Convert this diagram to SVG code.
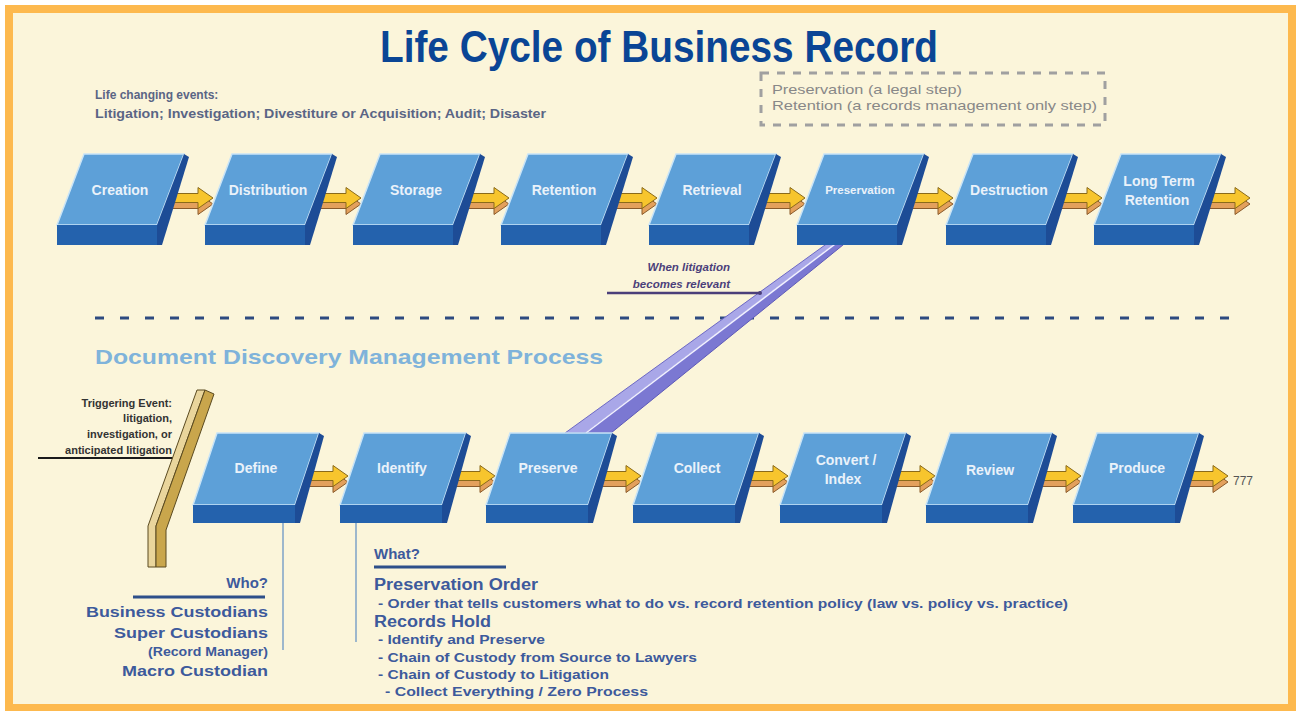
<svg xmlns="http://www.w3.org/2000/svg" width="1297" height="711" viewBox="0 0 1297 711">
<defs>
<style>
.tf{fill:#5DA0D8;stroke:#C9E4F7;stroke-width:1.5}
.ff{fill:#2462AD}
.sf{fill:#1D4C96}
.lbl{font-family:"Liberation Sans",Arial,sans-serif;font-weight:bold;font-size:14px;fill:#EAF2FA;text-anchor:middle}
.gt{font-family:"Liberation Sans",Arial,sans-serif;font-weight:bold;font-size:12px;fill:#5A6585}
.bt{font-family:"Liberation Sans",Arial,sans-serif;font-weight:bold;fill:#3D5A9C}
.dt{font-family:"Liberation Sans",Arial,sans-serif;font-weight:bold;font-size:11px;fill:#333333;text-anchor:end}
.lg{font-family:"Liberation Sans",Arial,sans-serif;font-size:13px;fill:#888888}
</style>
<g id="arr">
<path d="M0,1.5 H35 V-4.5 L50,6 L35,16.5 V10.5 H0 Z" fill="#E3A05C" stroke="#8A5A2A" stroke-width="1"/>
<path d="M0,-4.5 H35 V-10.5 L50,0 L35,10.5 V4.5 H0 Z" fill="#F7C52D" stroke="#8A6A1A" stroke-width="1"/>
</g>
<g id="tbox">
<polygon class="tf" points="27,154 127,154 100,225 0,225"/>
<rect class="ff" x="0" y="225" width="100" height="20"/>
<polygon class="sf" points="127,154 132,157 105,245 100,245 100,225"/>
</g>
<g id="lbox">
<polygon class="tf" points="24,433 126,433 102,505 0,505"/>
<rect class="ff" x="0" y="505" width="102" height="18"/>
<polygon class="sf" points="126,433 131,436 107,523 102,523 102,505"/>
</g>
</defs>

<rect x="0" y="0" width="1297" height="711" fill="#FFFFFF"/>
<rect x="9" y="9" width="1283" height="699" fill="#FBF5DA" stroke="#FDB94E" stroke-width="8"/>

<text x="380" y="62" font-family="'Liberation Sans Narrow','Liberation Sans',Arial,sans-serif" font-weight="bold" font-size="44" fill="#0A4595" textLength="558" lengthAdjust="spacingAndGlyphs">Life Cycle of Business Record</text>

<g id="events-note">
<text class="gt" x="95" y="99">Life changing events:</text>
<text class="gt" x="95" y="118" textLength="451" lengthAdjust="spacingAndGlyphs">Litigation; Investigation; Divestiture or Acquisition; Audit; Disaster</text>
</g>

<g id="legend-box">
<rect x="761" y="73" width="344" height="52" fill="none" stroke="#A0A0A0" stroke-width="3" stroke-dasharray="8 8"/>
<text class="lg" x="772" y="94" textLength="190" lengthAdjust="spacingAndGlyphs">Preservation (a legal step)</text>
<text class="lg" x="772" y="110" textLength="325" lengthAdjust="spacingAndGlyphs">Retention (a records management only step)</text>
</g>

<line x1="95" y1="318" x2="1245" y2="318" stroke="#2D4A80" stroke-width="3" stroke-dasharray="9 16"/>

<text x="95" y="364" font-family="'Liberation Sans',Arial,sans-serif" font-weight="bold" font-size="21" fill="#7FB3DA" textLength="508" lengthAdjust="spacingAndGlyphs">Document Discovery Management Process</text>

<g id="connectors">
<use href="#arr" x="163" y="198"/>
<use href="#arr" x="311" y="198"/>
<use href="#arr" x="459" y="198"/>
<use href="#arr" x="607" y="198"/>
<use href="#arr" x="755" y="198"/>
<use href="#arr" x="903" y="198"/>
<use href="#arr" x="1052" y="198"/>
<use href="#arr" x="1200" y="198"/>

<use href="#arr" x="298" y="476"/>
<use href="#arr" x="445" y="476"/>
<use href="#arr" x="591" y="476"/>
<use href="#arr" x="738" y="476"/>
<use href="#arr" x="885" y="476"/>
<use href="#arr" x="1031" y="476"/>
<use href="#arr" x="1178" y="476"/>

<g id="litigation-bar">
<polygon points="843,232 851,232 586,433 565,433" fill="#A9A7E8" stroke="#6D69C4" stroke-width="1"/>
<polygon points="851,232 859,232 611,433 586,433" fill="#7B78D2" stroke="#5D59B8" stroke-width="1"/>
<line x1="851" y1="232" x2="586" y2="433" stroke="#F2F2FF" stroke-width="1.5"/>
</g>
<line x1="607" y1="293" x2="760" y2="293" stroke="#4B3F7A" stroke-width="2.5"/>
<circle cx="760" cy="293" r="2" fill="#4B3F7A"/>

<line x1="38" y1="458" x2="180" y2="458" stroke="#1A1A1A" stroke-width="2"/>
<circle cx="180" cy="458" r="2.5" fill="#1A1A1A"/>

<line x1="283" y1="514" x2="283" y2="650" stroke="#9DB7CC" stroke-width="2"/>
<circle cx="283" cy="514" r="2.5" fill="#9DC3E6"/>
<line x1="356" y1="515" x2="356" y2="642" stroke="#9DB7CC" stroke-width="2"/>
<circle cx="356" cy="515" r="2.5" fill="#9DC3E6"/>
</g>

<g id="node-creation" transform="translate(57,0)"><use href="#tbox"/><text class="lbl" x="63" y="195">Creation</text></g>
<g id="node-distribution" transform="translate(205,0)"><use href="#tbox"/><text class="lbl" x="63" y="195">Distribution</text></g>
<g id="node-storage" transform="translate(353,0)"><use href="#tbox"/><text class="lbl" x="63" y="195">Storage</text></g>
<g id="node-retention" transform="translate(501,0)"><use href="#tbox"/><text class="lbl" x="63" y="195">Retention</text></g>
<g id="node-retrieval" transform="translate(649,0)"><use href="#tbox"/><text class="lbl" x="63" y="195">Retrieval</text></g>
<g id="node-preservation" transform="translate(797,0)"><use href="#tbox"/><text class="lbl" x="63" y="194" style="font-size:11.5px">Preservation</text></g>
<g id="node-destruction" transform="translate(946,0)"><use href="#tbox"/><text class="lbl" x="63" y="195">Destruction</text></g>
<g id="node-longterm" transform="translate(1094,0)"><use href="#tbox"/><text class="lbl" x="65" y="186">Long Term</text><text class="lbl" x="63" y="205">Retention</text></g>

<g id="node-define" transform="translate(193,0)"><use href="#lbox"/><text class="lbl" x="63" y="473">Define</text></g>
<g id="node-identify" transform="translate(340,0)"><use href="#lbox"/><text class="lbl" x="62" y="473">Identify</text></g>
<g id="node-preserve" transform="translate(486,0)"><use href="#lbox"/><text class="lbl" x="62" y="473">Preserve</text></g>
<g id="node-collect" transform="translate(633,0)"><use href="#lbox"/><text class="lbl" x="64" y="473">Collect</text></g>
<g id="node-convert" transform="translate(780,0)"><use href="#lbox"/><text class="lbl" x="66" y="465">Convert /</text><text class="lbl" x="63" y="484">Index</text></g>
<g id="node-review" transform="translate(926,0)"><use href="#lbox"/><text class="lbl" x="64" y="475">Review</text></g>
<g id="node-produce" transform="translate(1073,0)"><use href="#lbox"/><text class="lbl" x="64" y="473">Produce</text></g>

<text x="1233" y="485" font-family="'Liberation Sans',Arial,sans-serif" font-size="12" fill="#555555">777</text>

<g id="trigger-wall">
<polygon points="197,390 205,390 156,526 156,567 148,567 148,526" fill="#E9D59C" stroke="#5A4A20" stroke-width="1"/>
<polygon points="205,390 214,394 166,530 166,567 156,567 156,526" fill="#C9A64C" stroke="#5A4A20" stroke-width="1"/>
</g>
<g id="trigger-text">
<text class="dt" x="172" y="407">Triggering Event:</text>
<text class="dt" x="172" y="422">litigation,</text>
<text class="dt" x="172" y="438">investigation, or</text>
<text class="dt" x="172" y="454">anticipated litigation</text>
</g>

<g id="when-litigation">
<text x="730" y="271" font-family="'Liberation Sans',Arial,sans-serif" font-weight="bold" font-style="italic" font-size="11.5" fill="#4B3F7A" text-anchor="end">When litigation</text>
<text x="730" y="288" font-family="'Liberation Sans',Arial,sans-serif" font-weight="bold" font-style="italic" font-size="11.5" fill="#4B3F7A" text-anchor="end">becomes relevant</text>
</g>

<g id="who" text-anchor="end">
<text class="bt" x="268" y="588" font-size="15">Who?</text>
<line x1="133" y1="597" x2="265" y2="597" stroke="#2D4F8A" stroke-width="3"/>
<text class="bt" x="268" y="617" font-size="15" textLength="182" lengthAdjust="spacingAndGlyphs">Business Custodians</text>
<text class="bt" x="268" y="638" font-size="15" textLength="154" lengthAdjust="spacingAndGlyphs">Super Custodians</text>
<text class="bt" x="268" y="656" font-size="12" textLength="120" lengthAdjust="spacingAndGlyphs">(Record Manager)</text>
<text class="bt" x="268" y="676" font-size="15" textLength="146" lengthAdjust="spacingAndGlyphs">Macro Custodian</text>
</g>

<g id="what">
<text class="bt" x="374" y="559" font-size="15" fill="#2D4A85">What?</text>
<line x1="374" y1="567" x2="506" y2="567" stroke="#2D4F8A" stroke-width="3"/>
<text class="bt" x="374" y="590" font-size="16" textLength="164" lengthAdjust="spacingAndGlyphs">Preservation Order</text>
<text class="bt" x="378" y="608" font-size="13" textLength="690" lengthAdjust="spacingAndGlyphs">- Order that tells customers what to do vs. record retention policy (law vs. policy vs. practice)</text>
<text class="bt" x="374" y="627" font-size="16" textLength="117" lengthAdjust="spacingAndGlyphs">Records Hold</text>
<text class="bt" x="378" y="644" font-size="12.5" textLength="167" lengthAdjust="spacingAndGlyphs">- Identify and Preserve</text>
<text class="bt" x="378" y="662" font-size="12.5" textLength="319" lengthAdjust="spacingAndGlyphs">- Chain of Custody from Source to Lawyers</text>
<text class="bt" x="378" y="679" font-size="12.5" textLength="231" lengthAdjust="spacingAndGlyphs">- Chain of Custody to Litigation</text>
<text class="bt" x="385" y="696" font-size="12.5" textLength="263" lengthAdjust="spacingAndGlyphs">- Collect Everything / Zero Process</text>
</g>
</svg>
